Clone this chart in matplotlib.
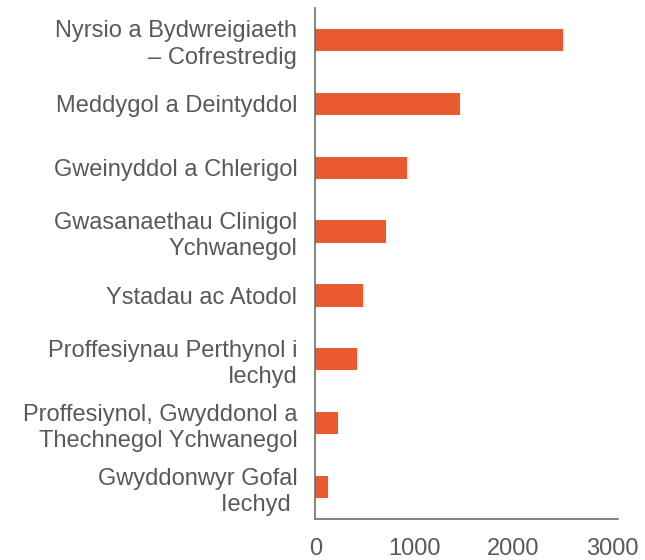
import matplotlib.pyplot as plt

categories = [
    "Nyrsio a Bydwreigiaeth\n– Cofrestredig",
    "Meddygol a Deintyddol",
    "Gweinyddol a Chlerigol",
    "Gwasanaethau Clinigol\nYchwanegol",
    "Ystadau ac Atodol",
    "Proffesiynau Perthynol i\nIechyd",
    "Proffesiynol, Gwyddonol a\nThechnegol Ychwanegol",
    "Gwyddonwyr Gofal\nIechyd ",
]
values = [2500, 1460, 930, 712, 477, 419, 230, 123]
ticks = [0, 1000, 2000, 3000]

BAR = "#EA5A32"
TEXT = "#595959"
AXIS = "#6E6E6E"

plt.rcParams["font.family"] = ["Liberation Sans", "DejaVu Sans"]

fig = plt.figure(figsize=(6.45, 5.6), dpi=100)
ax = fig.add_axes([0.489, 0.0732, 0.469, 0.9125])

pos = list(range(len(categories)))
ax.barh(pos, values, height=0.35, color=BAR)
ax.set_ylim(len(categories) - 0.5, -0.5)
ax.set_xlim(0, 3060)
ax.set_yticks(pos)
ax.set_yticklabels(categories, fontsize=17, color=TEXT, ha="right", linespacing=1.25)
ax.set_xticks(ticks)
ax.set_xticklabels([str(t) for t in ticks], fontsize=17, color=TEXT)
ax.tick_params(axis="y", length=0, pad=13)
ax.tick_params(axis="x", length=0, pad=14)

for s in ("top", "right"):
    ax.spines[s].set_visible(False)
for s in ("left", "bottom"):
    ax.spines[s].set_color(AXIS)
    ax.spines[s].set_linewidth(1.2)

fig.savefig("out.png", dpi=100, facecolor="white")
